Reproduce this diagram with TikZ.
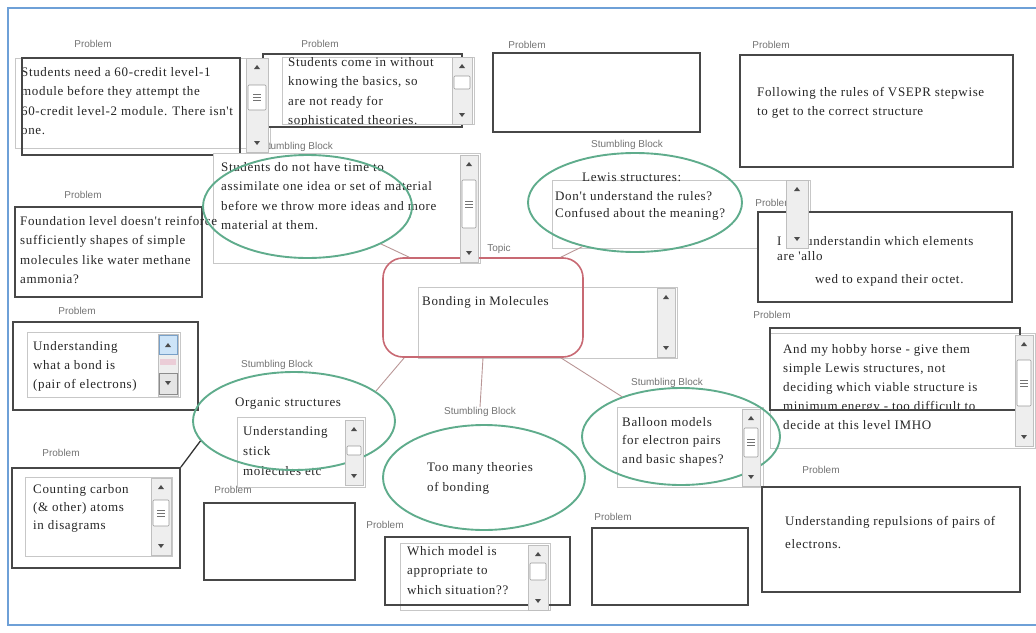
\documentclass[tikz,border=0pt]{standalone}
\usepackage{fontspec}
\setmainfont{Liberation Serif}
\newfontfamily\bodyfont[LetterSpace=5]{Liberation Serif}
\newfontfamily\labelfont{Liberation Sans}
\usetikzlibrary{shapes.geometric,fit}

\definecolor{frameblue}{RGB}{110,160,215}
\definecolor{ellgreen}{RGB}{95,172,140}
\definecolor{topicred}{RGB}{200,105,115}
\definecolor{connc}{RGB}{185,150,150}
\definecolor{sbfill}{RGB}{238,238,238}
\definecolor{btnblue}{RGB}{205,228,248}
\definecolor{btnedge}{RGB}{120,160,200}
\definecolor{thumbpink}{RGB}{235,205,215}

% scroll track with its two arrow buttons: x1 y1 x2 y2
\newcommand{\scrollbox}[4]{%
  \fill[sbfill] (#1,#2) rectangle (#3,#4);
  \draw[black!25, line width=0.6pt] (#1,#2) rectangle (#3,#4);
  \fill[black!70] ({(#1+#3)/2-3},{#2+11}) -- ({(#1+#3)/2+3},{#2+11}) -- ({(#1+#3)/2},{#2+7}) -- cycle;
  \fill[black!70] ({(#1+#3)/2-3},{#4-11}) -- ({(#1+#3)/2+3},{#4-11}) -- ({(#1+#3)/2},{#4-7}) -- cycle;
}
% plain scroll thumb
\newcommand{\thumbplain}[4]{%
  \draw[black!40, fill=white, line width=0.6pt, rounded corners=1pt] ({#1+2},#2) rectangle ({#3-2},#4);
}
% scroll thumb with grip lines
\newcommand{\thumbgrip}[4]{%
  \thumbplain{#1}{#2}{#3}{#4}
  \foreach \k in {-3,0,3}
    \draw[black!55, line width=0.6pt] ({(#1+#3)/2-4},{(#2+#4)/2+\k}) -- ({(#1+#3)/2+4},{(#2+#4)/2+\k});
}

\begin{document}
\begin{tikzpicture}[x=1pt, y=-1pt,
  txt/.style={anchor=north west, inner sep=0pt, align=left, text=black!85,
              font=\bodyfont\fontsize{13}{19.5}\selectfont},
  bs/.style={font=\bodyfont\fontsize{13}{#1}\selectfont},
  lbl/.style={inner sep=0pt, text=black!55, font=\labelfont\fontsize{10}{12}\selectfont},
  darkbox/.style={draw=black!72, line width=1.8pt, fill=white, inner sep=0pt},
  lightbox/.style={draw=black!22, line width=0.8pt, fill=white, inner sep=0pt},
  ell/.style={ellipse, draw=ellgreen, line width=1.9pt, inner sep=0pt},
  topicbox/.style={draw=topicred, line width=1.6pt, rounded corners=20pt, inner sep=0pt},
  conn/.style={draw=connc, line width=0.9pt},
  darkconn/.style={draw=black!80, line width=1.3pt}]
\useasboundingbox (0,0) rectangle (1036,632);

% outer frame
\draw[frameblue, line width=1.6pt] (1036,8) -- (8,8) -- (8,625) -- (1036,625);

% ---- top row of problems
\node[lightbox, fit={(15,58) (270,148)}] (p1area) {};
\node[txt] (p1text) at (21,62.3) {\strut Students need a 60-credit level-1\\module before they attempt the\\60-credit level-2 module. There isn't\\one.};
\node[darkbox, fill=none, fit={(22,58) (240,155)}] (p1) {};

\node[darkbox, fit={(263,54) (462,127)}] (p2) {};
\node[lightbox, fit={(282,57) (474,124)}] (p2area) {};
\begin{scope}
  \clip (282,57) rectangle (474,124);
  \node[txt] (p2text) at (288,52.3) {\strut Students come in without\\knowing the basics, so\\are not ready for\\sophisticated theories.};
\end{scope}

\node[darkbox, fit={(493,53) (700,132)}] (p3) {};

\node[darkbox, fit={(740,55) (1013,167)}] (p4) {};
\node[txt] (p4text) at (757,82.3) {\strut Following the rules of VSEPR stepwise\\to get to the correct structure};

% ---- stumbling block: time to assimilate
\node[lightbox, fit={(213,153) (480,263)}] (s1area) {};
\node[darkbox, fit={(15,207) (202,297)}] (p5) {};
\node[txt] (p5text) at (20,211.3) {\strut Foundation level doesn't reinforce\\sufficiently shapes of simple\\molecules like water methane\\ammonia?};
\node[txt] (s1text) at (221,157.3) {\strut Students do not have time to\\assimilate one idea or set of material\\before we throw more ideas and more\\material at them.};

% ---- stumbling block: Lewis structures
\node[lightbox, fit={(552,180) (810,248)}] (s2area) {};
\node[txt] (s2head) at (582,167.3) {\strut Lewis structures:};
\node[txt, bs=17] (s2text) at (555,188) {\strut Don't understand the rules?\\Confused about the meaning?};

\node[darkbox, fit={(758,212) (1012,302)}] (p6) {};
\node[txt] (p6a) at (777,231.3) {\strut I};
\node[txt] (p6b) at (806,231.3) {\strut understandin which elements};
\node[txt] (p6c) at (777,246.3) {\strut are 'allo};
\node[txt] (p6d) at (815,269.3) {\strut wed to expand their octet.};

% ---- topic
\node[lightbox, fit={(418,287) (677,358)}] (toparea) {};
\node[txt] (toptext) at (422,291.3) {\strut Bonding in Molecules};

% ---- left column
\node[darkbox, fit={(13,322) (198,410)}] (p7) {};
\node[lightbox, fit={(27,332) (180,397)}] (p7area) {};
\node[txt, bs=19] (p7text) at (33,336.6) {\strut Understanding\\what a bond is\\(pair of electrons)};

\node[darkbox, fit={(12,468) (180,568)}] (p9) {};
\node[lightbox, fit={(25,477) (172,556)}] (p9area) {};
\node[txt, bs=18] (p9text) at (33,480.3) {\strut Counting carbon\\(\& other) atoms\\in disagrams};

% ---- organic structures
\node[lightbox, fit={(237,417) (365,487)}] (s3area) {};
\node[txt] (s3head) at (235,392.3) {\strut Organic structures};
\node[txt, bs=20] (s3text) at (243,420.9) {\strut Understanding\\stick\\molecules etc};

% ---- too many theories
\node[txt, bs=20] (s4text) at (427,456.9) {\strut Too many theories\\of bonding};

% ---- balloon models
\node[lightbox, fit={(617,407) (763,487)}] (s5area) {};
\node[txt, bs=18.5] (s5text) at (622,413) {\strut Balloon models\\for electron pairs\\and basic shapes?};

% ---- hobby horse
\node[lightbox, fit={(770,333) (1035,448)}] (p8area) {};
\node[txt, bs=19] (p8text) at (783,339.6) {\strut And my hobby horse - give them\\simple Lewis structures, not\\deciding which viable structure is\\minimum energy - too difficult to\\decide at this level IMHO};
\fill[white] (772,411) rectangle (1013,417);
\node[darkbox, fill=none, fit={(770,328) (1020,410)}] (p8) {};

% ---- bottom row
\node[darkbox, fit={(204,503) (355,580)}] (p10) {};

\node[lightbox, fit={(400,543) (550,610)}] (p12area) {};
\node[txt] (p12text) at (407,541.3) {\strut Which model is\\appropriate to\\which situation??};
\node[darkbox, fill=none, fit={(385,537) (570,605)}] (p12) {};

\node[darkbox, fit={(592,528) (748,605)}] (p13) {};

\node[darkbox, fit={(762,487) (1020,592)}] (p11) {};
\node[txt, bs=23] (p11text) at (785,508.8) {\strut Understanding repulsions of pairs of\\electrons.};

% ---- labels
\node[lbl] (lp1) at (93,44) {Problem};
\node[lbl] (lp2) at (320,44) {Problem};
\node[lbl] (lp3) at (527,45) {Problem};
\node[lbl] (lp4) at (771,45) {Problem};
\node[lbl] (lp5) at (83,195) {Problem};
\node[lbl] (ls1) at (297,147) {Stumbling Block};
\node[lbl] (ls2) at (627,145) {Stumbling Block};
\node[lbl] (lp6) at (774,203) {Problem};
\node[lbl] (ltop) at (499,249) {Topic};
\node[lbl] (lp7) at (77,311) {Problem};
\node[lbl] (lp8) at (772,315) {Problem};
\node[lbl] (ls3) at (277,365) {Stumbling Block};
\node[lbl] (ls5) at (667,383) {Stumbling Block};
\node[lbl] (ls4) at (480,412) {Stumbling Block};
\node[lbl] (lp9) at (61,453) {Problem};
\node[lbl] (lp11) at (821,470) {Problem};
\node[lbl] (lp10) at (233,490) {Problem};
\node[lbl] (lp13) at (613,517) {Problem};
\node[lbl] (lp12) at (385,525) {Problem};

% ---- stumbling blocks and topic
\node[ell, minimum width=209pt, minimum height=103pt] (sb1) at (307.5,206.5) {};
\node[ell, minimum width=214pt, minimum height=99pt] (sb2) at (635,202.5) {};
\node[ell, minimum width=202pt, minimum height=98pt] (sb3) at (294,421) {};
\node[ell, minimum width=202pt, minimum height=105pt] (sb4) at (484,477.5) {};
\node[ell, minimum width=198pt, minimum height=97pt] (sb5) at (681,436.5) {};
\node[topicbox, fit={(383,258) (583,357)}] (topic) {};

% ---- connectors
\draw[conn] (sb1.-27) -- ([xshift=27pt]topic.north west);
\draw[conn] (sb2.-140) -- ([xshift=-23pt]topic.north east);
\draw[conn] ([xshift=22pt]topic.south west) -- (sb3.20);
\draw[conn] (topic.south) -- (ls4.north);
\draw[conn] ([xshift=-23pt]topic.south east) -- (sb5.146);
\draw[darkconn] (sb3.-168) -- (p9.north east);

% ---- scroll bars
\scrollbox{246}{58}{268}{152}   \thumbgrip{246}{85}{268}{110}
\scrollbox{452}{57}{472}{124}   \thumbplain{452}{76}{472}{89}
\scrollbox{460}{155}{478}{262}  \thumbgrip{460}{180}{478}{228}
\scrollbox{786}{180}{808}{248}
\scrollbox{657}{288}{675}{357}
\scrollbox{345}{420}{363}{485}  \thumbplain{345}{446}{363}{455}
\scrollbox{742}{409}{760}{486}  \thumbgrip{742}{428}{760}{457}
\scrollbox{1015}{335}{1033}{446} \thumbgrip{1015}{360}{1033}{406}
\scrollbox{151}{478}{171}{555}  \thumbgrip{151}{500}{171}{526}
\scrollbox{528}{545}{548}{610}  \thumbplain{528}{563}{548}{580}
% scroll bar with highlighted up button
\fill[sbfill] (158,334) rectangle (178,396);
\draw[black!25, line width=0.6pt] (158,334) rectangle (178,396);
\draw[btnedge, fill=btnblue, line width=0.7pt] (159,335) rectangle (177,354);
\fill[black!70] (165,347) -- (171,347) -- (168,343) -- cycle;
\fill[thumbpink] (160,359) rectangle (176,365);
\draw[black!45, fill=black!10, line width=0.6pt] (159,373) rectangle (177,394);
\fill[black!70] (165,381) -- (171,381) -- (168,385) -- cycle;
\end{tikzpicture}
\end{document}
